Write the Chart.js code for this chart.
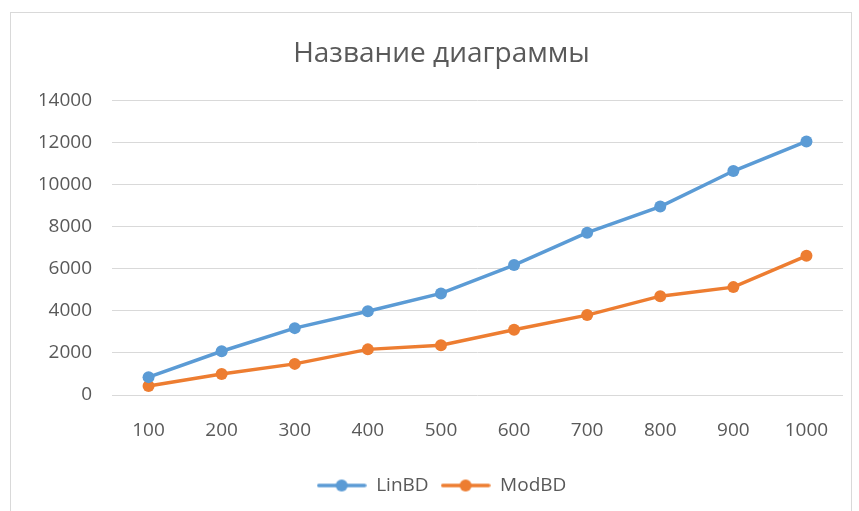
<!DOCTYPE html>
<html>
<head>
<meta charset="utf-8">
<script src="https://cdn.jsdelivr.net/npm/chart.js@4"></script>
<style>
  html, body { margin: 0; padding: 0; background: #fff; }
  #wrap { position: relative; width: 859px; height: 511px; overflow: hidden; }
  #frame { position: absolute; left: 10px; top: 12px; width: 842px; height: 520px; border: 1px solid #d9d9d9; box-sizing: border-box; pointer-events: none; }
  canvas { position: absolute; left: 0; top: 0; }
</style>
</head>
<body>
<div id="wrap">
  <canvas id="c" width="859" height="511"></canvas>
  <div id="frame"></div>
</div>
<script>
const categories = ['100', '200', '300', '400', '500', '600', '700', '800', '900', '1000'];
const linBD = [850, 2080, 3180, 3980, 4830, 6180, 7720, 8960, 10650, 12060];
const modBD = [430, 1000, 1480, 2170, 2370, 3100, 3800, 4700, 5130, 6620];
const yTicks = [0, 2000, 4000, 6000, 8000, 10000, 12000, 14000];
const titleText = 'Название диаграммы';
const seriesNames = ['LinBD', 'ModBD'];
const colors = ['#5B9BD5', '#ED7D31'];

const FONT = "'Open Sans', 'DejaVu Sans', sans-serif";
const TXT = '#595959';

function legendIcon(color) {
  const cv = document.createElement('canvas');
  cv.width = 50; cv.height = 14;
  const g = cv.getContext('2d');
  g.strokeStyle = color; g.lineWidth = 3.5; g.lineCap = 'round';
  g.beginPath(); g.moveTo(2, 7); g.lineTo(48, 7); g.stroke();
  g.fillStyle = color;
  g.beginPath(); g.arc(25, 7, 6, 0, Math.PI * 2); g.fill();
  return cv;
}
const icons = colors.map(legendIcon);

new Chart(document.getElementById('c'), {
  type: 'line',
  data: {
    labels: categories,
    datasets: [
      { label: seriesNames[0], data: linBD, borderColor: colors[0], backgroundColor: colors[0],
        borderWidth: 3.5, pointRadius: 6, pointHoverRadius: 6, pointBorderWidth: 0, tension: 0 },
      { label: seriesNames[1], data: modBD, borderColor: colors[1], backgroundColor: colors[1],
        borderWidth: 3.5, pointRadius: 6, pointHoverRadius: 6, pointBorderWidth: 0, tension: 0 }
    ]
  },
  options: {
    responsive: false,
    animation: false,
    layout: { padding: { left: 40, right: 16, top: 0, bottom: 6 } },
    plugins: {
      title: {
        display: true, text: titleText, color: TXT,
        font: { family: FONT, size: 28, weight: 'normal' },
        padding: { top: 37, bottom: 30 }
      },
      legend: {
        position: 'bottom',
        labels: {
          color: TXT, font: { family: FONT, size: 19 },
          usePointStyle: true, pointStyleWidth: 50, padding: 12, boxHeight: 14,
          generateLabels: (chart) => chart.data.datasets.map((ds, i) => ({
            text: ds.label, fontColor: TXT, pointStyle: icons[i],
            datasetIndex: i, hidden: false, lineWidth: 0, strokeStyle: ds.borderColor, fillStyle: ds.borderColor
          }))
        }
      },
      tooltip: { enabled: false }
    },
    scales: {
      x: {
        offset: true,
        grid: { display: false, drawTicks: false },
        border: { display: false },
        ticks: { color: TXT, font: { family: FONT, size: 19 }, padding: 24, maxRotation: 0 },
        afterFit: (s) => { s.height = 69; }
      },
      y: {
        min: 0, max: 14000,
        afterBuildTicks: (s) => { s.ticks = yTicks.map(v => ({ value: v })); },
        grid: { color: '#d9d9d9', lineWidth: 1, drawTicks: false },
        border: { display: false },
        ticks: { color: TXT, font: { family: FONT, size: 19 }, padding: 20, callback: (v) => String(v) },
        afterFit: (s) => { s.width = 72; }
      }
    }
  }
});
</script>
</body>
</html>
